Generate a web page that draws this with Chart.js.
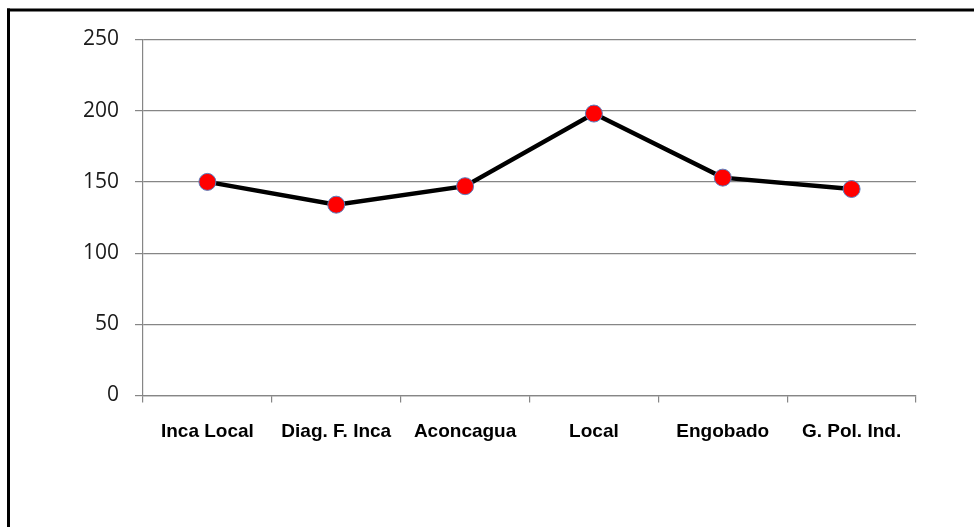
<!DOCTYPE html>
<html>
<head>
<meta charset="utf-8">
<script src="https://cdn.jsdelivr.net/npm/chart.js@4/dist/chart.umd.min.js"></script>
<style>
  html, body { margin: 0; padding: 0; background: #fff; }
  #wrap { width: 974px; height: 527px; position: relative; }
</style>
</head>
<body>
<div id="wrap"><canvas id="c" width="974" height="527"></canvas></div>
<script>
const categories = ['Inca Local', 'Diag. F. Inca', 'Aconcagua', 'Local', 'Engobado', 'G. Pol. Ind.'];
const values = [150, 134, 147, 198, 153, 145];
const yTicks = [0, 50, 100, 150, 200, 250];

// Thick frame along the top and left edges of the page
const framePlugin = {
  id: 'frame',
  beforeDraw(chart) {
    const ctx = chart.ctx;
    ctx.save();
    ctx.fillStyle = '#fff';
    ctx.fillRect(0, 0, chart.width, chart.height);
    ctx.fillStyle = '#000';
    ctx.fillRect(7, 8.5, chart.width - 7, 3);
    ctx.fillRect(7, 8.5, 3, chart.height - 8.5);
    ctx.restore();
  }
};

new Chart(document.getElementById('c'), {
  type: 'line',
  data: {
    labels: categories,
    datasets: [{
      data: values,
      borderColor: '#000',
      borderWidth: 4.5,
      tension: 0,
      pointRadius: 8.5,
      pointHoverRadius: 8.5,
      pointBackgroundColor: '#ff0000',
      pointBorderColor: '#5b80c0',
      pointBorderWidth: 1
    }]
  },
  options: {
    responsive: false,
    animation: false,
    events: [],
    layout: { padding: { top: 39.5, right: 58, left: 0, bottom: 0 } },
    plugins: { legend: { display: false }, tooltip: { enabled: false } },
    scales: {
      x: {
        offset: true,
        grid: {
          offset: true,
          drawOnChartArea: false,
          drawTicks: true,
          tickLength: 7,
          color: '#868686',
          lineWidth: 1.2
        },
        border: { display: true, color: '#868686', width: 1.2 },
        ticks: {
          color: '#000',
          padding: 18,
          maxRotation: 0,
          autoSkip: false,
          font: { family: '"Liberation Sans", Arial, sans-serif', size: 19, weight: 'bold' }
        },
        afterFit(scale) { scale.height = 131.5; }
      },
      y: {
        min: 0,
        max: 250,
        afterBuildTicks(scale) { scale.ticks = yTicks.map(v => ({ value: v })); },
        grid: {
          color: '#868686',
          lineWidth: 1.2,
          tickLength: 8
        },
        border: { display: true, color: '#868686', width: 1.2 },
        ticks: {
          color: '#1a1a1a',
          padding: 16,
          font: { family: '"Open Sans", sans-serif', size: 21 }
        },
        afterFit(scale) { scale.width = 143; }
      }
    }
  },
  plugins: [framePlugin]
});
</script>
</body>
</html>
